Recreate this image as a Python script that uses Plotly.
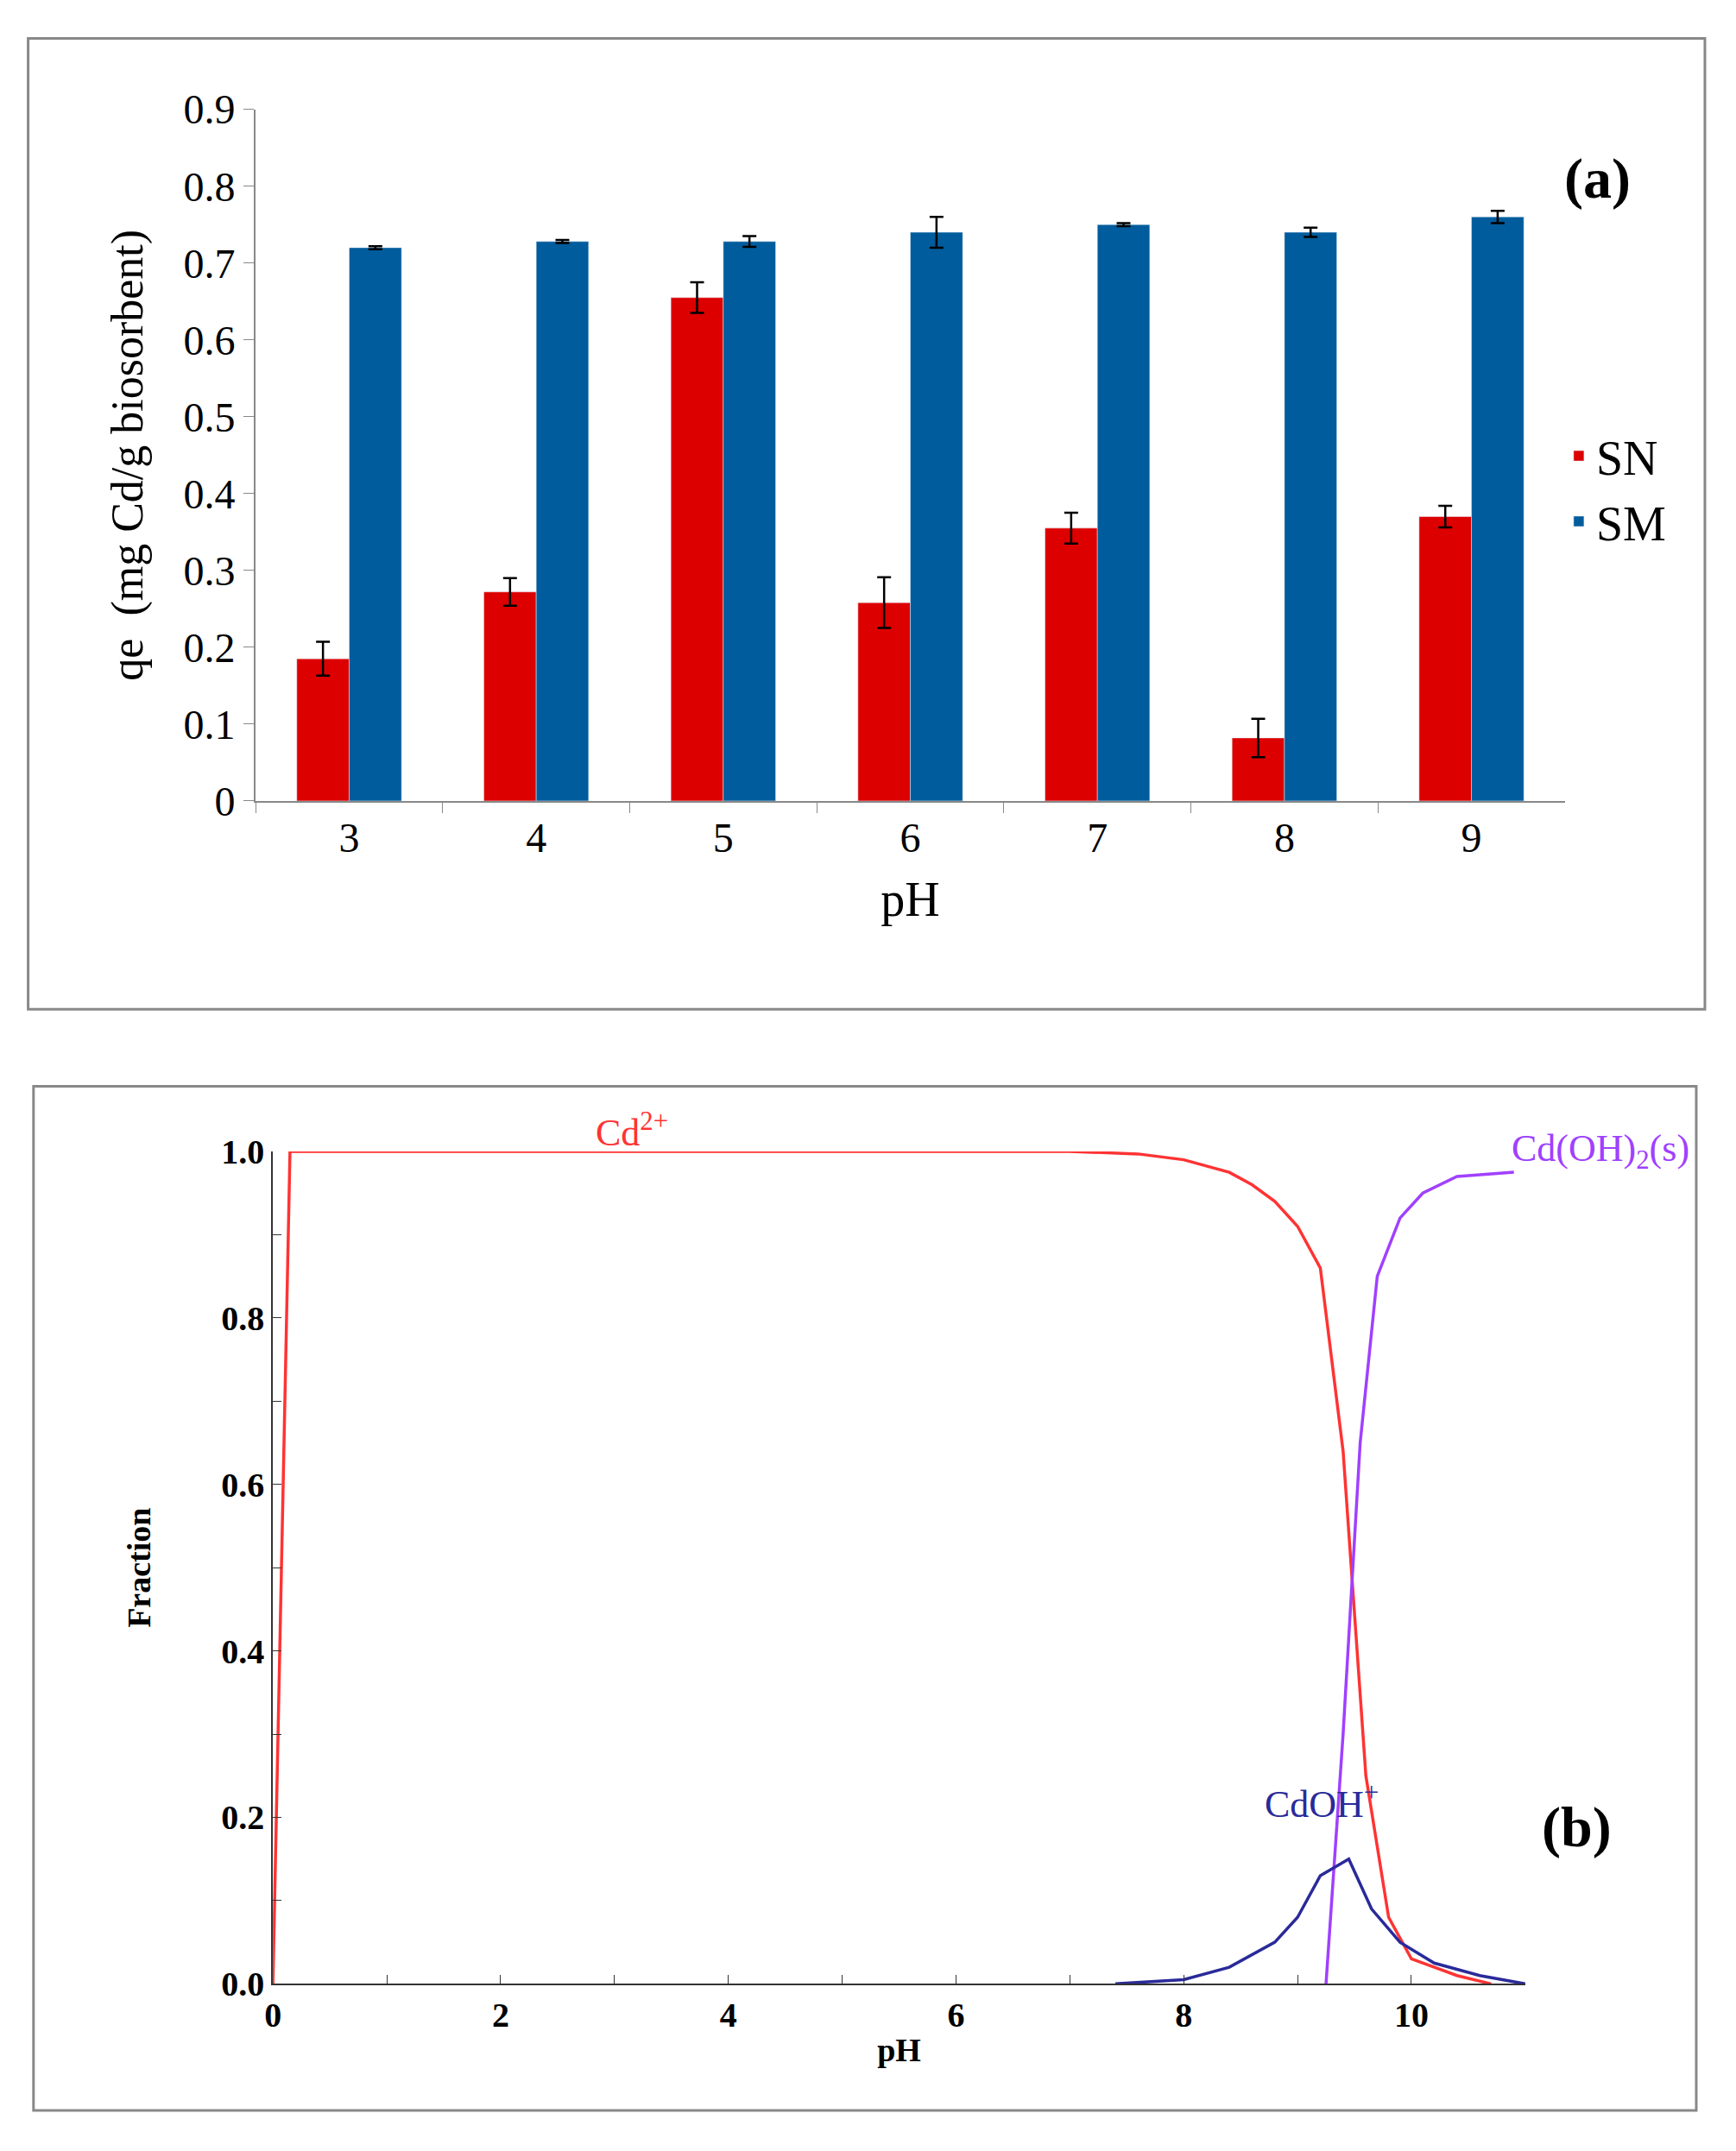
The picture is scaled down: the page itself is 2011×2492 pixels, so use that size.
import plotly.graph_objects as go

# (a) biosorption vs pH
ph_cat = ["3", "4", "5", "6", "7", "8", "9"]
sn_qe = [0.185, 0.272, 0.655, 0.258, 0.355, 0.082, 0.370]
sn_err = [0.022, 0.018, 0.020, 0.033, 0.020, 0.025, 0.014]
sm_qe = [0.720, 0.728, 0.728, 0.740, 0.750, 0.740, 0.760]
sm_err = [0.002, 0.002, 0.007, 0.020, 0.002, 0.006, 0.008]

# (b) speciation
cd_ph = [0, 0.15, 7.0, 7.6, 8.0, 8.4, 8.6, 8.8, 9.0, 9.2, 9.4, 9.5, 9.6, 9.8, 10.0, 10.4, 10.7]
cd_fr = [0, 1.0, 1.0, 0.997, 0.99, 0.975, 0.96, 0.94, 0.91, 0.86, 0.64, 0.45, 0.25, 0.08, 0.03, 0.01, 0.0]
oh2_ph = [9.25, 9.4, 9.55, 9.7, 9.9, 10.1, 10.4, 10.9]
oh2_fr = [0.0, 0.3, 0.65, 0.85, 0.92, 0.95, 0.97, 0.975]
oh_ph = [7.4, 8.0, 8.4, 8.8, 9.0, 9.2, 9.45, 9.65, 9.9, 10.2, 10.6, 11.0]
oh_fr = [0.0, 0.005, 0.02, 0.05, 0.08, 0.13, 0.15, 0.09, 0.05, 0.025, 0.01, 0.0]

SERIF = "Liberation Serif, Times New Roman, serif"
RED, BLUE = "#DD0000", "#005C9C"

fig = go.Figure()
eb = dict(type="data", thickness=2.5, width=8, color="black")
fig.add_trace(go.Bar(x=ph_cat, y=sn_qe, name="SN", marker_color=RED,
                     error_y=dict(array=sn_err, **eb), xaxis="x", yaxis="y"))
fig.add_trace(go.Bar(x=ph_cat, y=sm_qe, name="SM", marker_color=BLUE,
                     error_y=dict(array=sm_err, **eb), xaxis="x", yaxis="y"))

fig.add_trace(go.Scatter(x=cd_ph, y=cd_fr, mode="lines", line=dict(color="#FF3333", width=3.5),
                         showlegend=False, xaxis="x2", yaxis="y2", cliponaxis=False))
fig.add_trace(go.Scatter(x=oh2_ph, y=oh2_fr, mode="lines", line=dict(color="#A040FF", width=3.5),
                         showlegend=False, xaxis="x2", yaxis="y2", cliponaxis=False))
fig.add_trace(go.Scatter(x=oh_ph, y=oh_fr, mode="lines", line=dict(color="#2A2A9A", width=3.5),
                         showlegend=False, xaxis="x2", yaxis="y2", cliponaxis=False))

fig.update_layout(
    width=2011, height=2492,
    paper_bgcolor="white", plot_bgcolor="white",
    font=dict(family=SERIF, color="black"),
    barmode="group", bargap=0.44, bargroupgap=0,
    margin=dict(l=0, r=0, t=0, b=0),
    legend=dict(x=0.895, y=0.815, xanchor="left", yanchor="top", font=dict(size=56),
                tracegroupgap=10, itemwidth=30, bgcolor="rgba(0,0,0,0)"),
    xaxis=dict(domain=[0.139, 0.897], anchor="y", showline=True, linecolor="#888", linewidth=2,
               ticks="outside", tickson="boundaries", ticklen=12, tickcolor="#888",
               tickfont=dict(size=48), title=dict(text="pH", font=dict(size=56), standoff=25)),
    yaxis=dict(domain=[0.6335, 0.962], anchor="x", range=[0, 0.9], dtick=0.1, tickformat=".1~f",
               showline=True, linecolor="#888", linewidth=2, ticks="outside", ticklen=12,
               tickcolor="#888", showgrid=False, zeroline=False, tickfont=dict(size=48),
               title=dict(text="qe  (mg Cd/g biosorbent)", font=dict(size=52), standoff=30)),
    xaxis2=dict(domain=[0.149, 0.874], anchor="y2", range=[0, 11], dtick=2, showline=True,
                linecolor="#333", linewidth=2, ticks="inside", ticklen=10, tickcolor="#333",
                minor=dict(dtick=1, ticks="inside", ticklen=10, tickcolor="#333"),
                showgrid=False, zeroline=False, tickprefix="<b>", ticksuffix="</b>",
                tickfont=dict(size=40, family=SERIF), title=dict(text="<b>pH</b>", font=dict(size=38), standoff=5)),
    yaxis2=dict(domain=[0.0716, 0.467], anchor="x2", range=[0, 1.0], dtick=0.2, tickformat=".1f",
                showline=True, linecolor="#333", linewidth=2, ticks="inside", ticklen=10,
                tickcolor="#333", minor=dict(dtick=0.1, ticks="inside", ticklen=10, tickcolor="#333"),
                showgrid=False, zeroline=False, tickprefix="<b>", ticksuffix="</b>", tickfont=dict(size=40),
                title=dict(text="<b>Fraction</b>", font=dict(size=38), standoff=70)),
    shapes=[
        dict(type="rect", xref="paper", yref="paper", x0=0.0073, x1=0.978, y0=0.5345, y1=0.9957,
             line=dict(color="#888", width=3)),
        dict(type="rect", xref="paper", yref="paper", x0=0.0104, x1=0.973, y0=0.0115, y1=0.498,
             line=dict(color="#888", width=3)),
    ],
    annotations=[
        dict(text="<b>(a)</b>", xref="paper", yref="paper", x=0.936, y=0.945, showarrow=False,
             font=dict(size=66)),
        dict(text="<b>(b)</b>", xref="paper", yref="paper", x=0.925, y=0.13, showarrow=False,
             font=dict(size=66)),
        dict(text="Cd<sup>2+</sup>", xref="paper", yref="paper", x=0.357, y=0.477, showarrow=False,
             font=dict(size=44, color="#FF3333")),
        dict(text="Cd(OH)<sub>2</sub>(s)", xref="paper", yref="paper", x=0.97, y=0.467,
             xanchor="right", showarrow=False, font=dict(size=44, color="#A040FF")),
        dict(text="CdOH<sup>+</sup>", xref="paper", yref="paper", x=0.79, y=0.146, showarrow=False,
             font=dict(size=44, color="#2A2A9A")),
    ],
)

fig.write_html("out.html")
